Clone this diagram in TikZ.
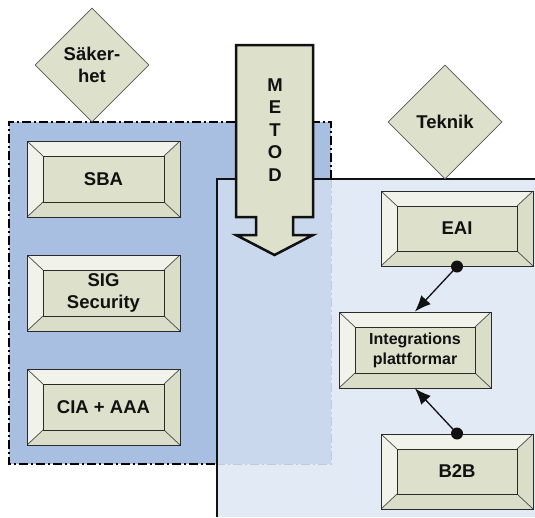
\documentclass[tikz,border=0pt]{standalone}
\usepackage{fontspec}
\setmainfont{Liberation Sans}
\usetikzlibrary{shapes.geometric,arrows.meta,calc}

\definecolor{panelL}{HTML}{A9BFE1}
\definecolor{panelR}{RGB}{215,226,243}
\definecolor{face}{HTML}{DDE0CB}
\definecolor{bevlight}{HTML}{F1F2EA}
\definecolor{bevdark}{HTML}{DADDC7}
\definecolor{boxline}{HTML}{2A2A2A}
\definecolor{txt}{HTML}{111111}

\tikzset{
  lbl/.style={font=\bfseries\fontsize{18.5}{22}\selectfont, text=txt, align=center},
  bevelbox/.style={lbl, draw=boxline, line width=1pt, fill=bevdark,
    minimum width=153pt, minimum height=76pt, inner sep=0pt,
    path picture={
      \path (path picture bounding box.south west) coordinate (bsw)
            (path picture bounding box.north east) coordinate (bne);
      \path (bsw) ++(16pt,15pt) coordinate (isw);
      \path (bne) ++(-16pt,-15pt) coordinate (ine);
      % lit top and left faces
      \fill[bevlight] (bsw) -- (bsw|-bne) -- (bne) -- (ine) -- (isw|-ine) -- (isw) -- cycle;
      % corner edges
      \draw[boxline!85, line width=0.7pt] (bsw) -- (isw) (bsw|-bne) -- (isw|-ine)
           (bne) -- (ine) (bne|-bsw) -- (ine|-isw);
      % front face
      \filldraw[fill=face, draw=boxline, line width=0.8pt] (isw) rectangle (ine);
    }},
  rhomb/.style={lbl, diamond, draw=boxline!80, line width=0.8pt, fill=face,
    minimum width=114pt, minimum height=114pt, inner sep=0pt},
  conn/.style={line width=1.3pt, draw=txt, -{Latex[length=16pt,width=13pt]}},
  dashdot/.style={line width=1.5pt, dash pattern=on 9pt off 3pt on 2pt off 3pt}
}

\begin{document}
\begin{tikzpicture}[x=1pt,y=-1pt]
\useasboundingbox (0,0) rectangle (535,517);

% security area
\fill[panelL] (9,122) rectangle (331,464);
\draw[dashdot] (331,179) -- (331,122) -- (9,122) -- (9,464) -- (217,464);
% border parts that lie under the technology area
\draw[dashdot, draw=black!45, line width=1pt] (331,179) -- (331,464) -- (217,464);

% technology area, laid over the security area
\fill[panelR, fill opacity=0.72] (217,179) rectangle (535,517);
\draw[line width=1.2pt, draw=txt] (217,517) -- (217,179) -- (535,179);

% headings
\node[rhomb] (sak) at (92,65) {Säker-\\het};
\node[rhomb] (tek) at (445,122) {Teknik};

% security boxes
\node[bevelbox] (sba) at (103.5,179) {SBA};
\node[bevelbox] (sig) at (103.5,293) {SIG\\Security};
\node[bevelbox] (cia) at (103.5,407) {CIA + AAA};

% technology boxes
\node[bevelbox, minimum width=152pt, minimum height=75pt] (eai) at (457,228.5) {EAI};
\node[bevelbox, minimum width=152pt, font=\bfseries\fontsize{16}{20}\selectfont] (integ) at (415,350) {Integrations\\plattformar};
\node[bevelbox, minimum width=152pt, minimum height=75pt] (b2b) at (457,471.5) {B2B};

% links
\draw[conn] (eai.south) -- (integ.north);
\fill[txt] (eai.south) circle (6pt);
\draw[conn] (b2b.north) -- (integ.south);
\fill[txt] (b2b.north) circle (6pt);

% method arrow
\filldraw[fill=face, draw=txt, line width=2.5pt, line join=miter]
  (236,45) -- (313,45) -- (313,217) -- (293,217) -- (293,235) -- (313,235)
  -- (274.5,255) -- (236,235) -- (256,235) -- (256,217) -- (236,217) -- cycle;
\node[lbl, font=\bfseries\fontsize{18.5}{22.5}\selectfont] (metod) at (275,130) {M\\E\\T\\O\\D};
\end{tikzpicture}
\end{document}
